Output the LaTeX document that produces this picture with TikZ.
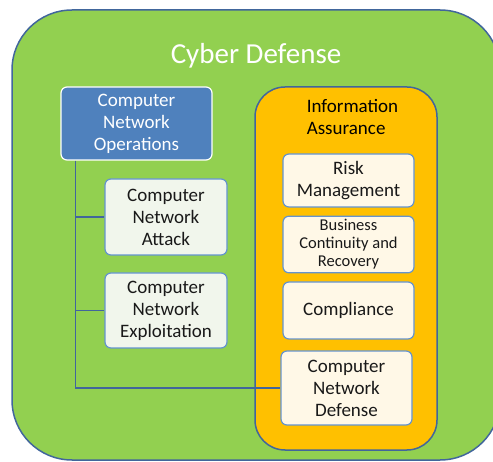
\documentclass[tikz,border=0pt]{standalone}
\usepackage{fontspec}
\setmainfont{Carlito}
\usepackage{tikz}
\usetikzlibrary{positioning}
\usepackage{xcolor}
\definecolor{cdgreen}{HTML}{92D050}
\definecolor{iaorange}{HTML}{FFC000}
\definecolor{cnoblue}{HTML}{4F81BD}
\definecolor{edgeblue}{HTML}{41669C}
\definecolor{boxedge}{HTML}{6494CF}
\definecolor{greenbox}{HTML}{F1F6EC}
\definecolor{creambox}{HTML}{FFF8E7}

\begin{document}
\begin{tikzpicture}[x=1pt, y=-1pt,
  box/.style = {draw = boxedge, line width = 1.2pt, rounded corners = 6pt,
    align = center, text = black!90, font = \fontsize{19}{22}\selectfont},
  cnbox/.style = {box, fill = greenbox, minimum width = 122pt},
  iabox/.style = {box, fill = creambox, minimum width = 131pt},
  link/.style = {draw = edgeblue, line width = 1.2pt}
]
\clip (0,0) rectangle (493,462);
\useasboundingbox (0,0) rectangle (493,462);
% outer frame
\draw[fill = cdgreen, draw = edgeblue, line width = 1.5pt, rounded corners = 60pt]
  (12,10) rectangle (500,460);
\node (cd) at (256,56) {\color{white}\fontsize{29}{34}\selectfont Cyber Defense};
% information assurance frame
\draw[fill = iaorange, draw = edgeblue, line width = 1.5pt, rounded corners = 30pt]
  (255,87) rectangle (437,450);
\node[align = left, font = \fontsize{19}{22}\selectfont] (ia) at (352.5,117) {Information\\Assurance};
% computer network operations
\node[box, fill = cnoblue, draw = white, text = white, minimum width = 151pt,
  minimum height = 73pt] (cno) at (136.5,123.5) {Computer\\Network\\Operations};
\node[cnbox, minimum height = 76pt] (cna) at (166,217) {Computer\\Network\\Attack};
\node[cnbox, minimum height = 75pt] (cne) at (166,310.5) {Computer\\Network\\Exploitation};
% assurance parts
\node[iabox, minimum height = 53pt] (risk) at (348.5,180.5) {Risk\\Management};
\node[iabox, minimum height = 53pt, font = \fontsize{16.5}{18}\selectfont] (bcr) at (348.5,244.5)
  {Business\\Continuity and\\Recovery};
\node[iabox, minimum height = 57pt] (comp) at (348.5,310.5) {Compliance};
\node[iabox, minimum height = 74pt] (cnd) at (346.5,388) {Computer\\Network\\Defense};
% connectors
\draw[link] (cno.south west) ++(15,0) coordinate (trunk) |- (cnd.west);
\draw[link] (trunk |- cna.west) -- (cna.west);
\draw[link] (trunk |- cne.west) -- (cne.west);
\end{tikzpicture}
\end{document}
